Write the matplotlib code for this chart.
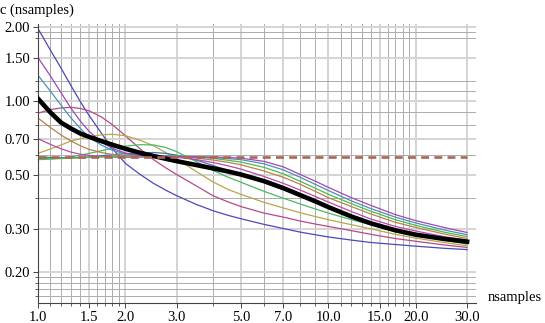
import matplotlib
matplotlib.use("Agg")
import matplotlib.pyplot as plt
from matplotlib.colors import hsv_to_rgb
from matplotlib.ticker import FixedLocator, NullFormatter

# sample positions
nsamples = [1, 1.1, 1.2, 1.3, 1.4, 1.5, 1.65, 1.8, 2, 2.25, 2.5, 2.75, 3, 3.5,
            4, 4.5, 5, 6, 7, 8, 9, 10, 12, 14, 17, 20, 25, 30]

c_1 = [1.97, 1.62, 1.36, 1.15, 0.99, 0.87, 0.74, 0.64, 0.555, 0.5, 0.46, 0.432, 0.41, 0.378,
       0.356, 0.341, 0.33, 0.313, 0.301, 0.291, 0.284, 0.278, 0.27, 0.264, 0.259, 0.255, 0.25, 0.247]
c_2 = [0.89, 0.92, 0.935, 0.94, 0.93, 0.91, 0.86, 0.8, 0.72, 0.635, 0.575, 0.533, 0.5, 0.45,
       0.41, 0.387, 0.37, 0.348, 0.335, 0.323, 0.314, 0.307, 0.295, 0.285, 0.274, 0.267, 0.258, 0.252]
c_3 = [0.61, 0.635, 0.66, 0.685, 0.70, 0.713, 0.726, 0.73, 0.72, 0.69, 0.655, 0.615, 0.58, 0.515,
       0.467, 0.435, 0.415, 0.385, 0.365, 0.349, 0.337, 0.327, 0.312, 0.3, 0.285, 0.275, 0.264, 0.256]
c_4 = [0.575, 0.578, 0.583, 0.59, 0.6, 0.61, 0.625, 0.64, 0.653, 0.662, 0.66, 0.645, 0.62, 0.565,
       0.52, 0.488, 0.465, 0.427, 0.4, 0.379, 0.362, 0.348, 0.327, 0.312, 0.293, 0.283, 0.27, 0.26]
c_5 = [0.59, 0.587, 0.585, 0.585, 0.587, 0.59, 0.596, 0.602, 0.608, 0.613, 0.615, 0.61, 0.6, 0.573,
       0.545, 0.52, 0.5, 0.463, 0.433, 0.407, 0.384, 0.366, 0.338, 0.317, 0.297, 0.284, 0.272, 0.264]
c_6 = [0.70, 0.665, 0.637, 0.617, 0.605, 0.598, 0.592, 0.589, 0.588, 0.589, 0.59, 0.59, 0.588, 0.576,
       0.56, 0.543, 0.526, 0.491, 0.46, 0.432, 0.407, 0.386, 0.353, 0.329, 0.307, 0.294, 0.279, 0.27]
c_7 = [0.85, 0.78, 0.725, 0.685, 0.655, 0.633, 0.615, 0.604, 0.598, 0.595, 0.593, 0.592, 0.59, 0.584,
       0.573, 0.561, 0.548, 0.517, 0.487, 0.456, 0.427, 0.402, 0.37, 0.345, 0.319, 0.304, 0.286, 0.274]
c_8 = [0.58, 0.58, 0.581, 0.583, 0.585, 0.587, 0.59, 0.592, 0.594, 0.596, 0.597, 0.597, 0.596, 0.591,
       0.582, 0.572, 0.562, 0.535, 0.503, 0.469, 0.44, 0.415, 0.38, 0.354, 0.327, 0.31, 0.291, 0.279]
c_9 = [1.27, 1.1, 0.96, 0.85, 0.77, 0.71, 0.66, 0.628, 0.607, 0.597, 0.593, 0.592, 0.591, 0.589,
       0.586, 0.581, 0.575, 0.553, 0.522, 0.487, 0.456, 0.43, 0.39, 0.363, 0.335, 0.317, 0.297, 0.284]
c_10 = [1.50, 1.27, 1.08, 0.93, 0.825, 0.75, 0.68, 0.64, 0.612, 0.598, 0.594, 0.593, 0.592, 0.591,
        0.59, 0.587, 0.583, 0.566, 0.537, 0.50, 0.47, 0.443, 0.402, 0.374, 0.343, 0.324, 0.304, 0.29]
c_mean = [1.02, 0.9, 0.815, 0.77, 0.735, 0.712, 0.685, 0.662, 0.637, 0.613, 0.595, 0.58, 0.567, 0.547,
          0.53, 0.515, 0.5, 0.47, 0.44, 0.412, 0.389, 0.368, 0.337, 0.316, 0.296, 0.284, 0.273, 0.266]
c_limit = 0.59

curves = [c_1, c_2, c_3, c_4, c_5, c_6, c_7, c_8, c_9, c_10]
hues = [0.67, 0.906, 0.142, 0.378, 0.614, 0.85, 0.086, 0.322, 0.558, 0.794]

x_ticks = [1.0, 1.5, 2.0, 3.0, 5.0, 7.0, 10.0, 15.0, 20.0, 30.0]
x_minor = [1.1, 1.2, 1.3, 1.4, 1.6, 1.7, 1.8, 1.9, 4, 6, 8, 9,
           11, 12, 13, 14, 16, 17, 18, 19]
y_ticks = [0.2, 0.3, 0.5, 0.7, 1.0, 1.5, 2.0]
y_minor = [0.16, 0.17, 0.18, 0.19, 0.4, 0.6, 0.8, 0.9, 1.1, 1.2, 1.8, 1.9]

SERIF = "Liberation Serif"

fig = plt.figure(figsize=(5.45, 3.23), dpi=100)
ax = fig.add_axes([38 / 545, 20 / 323, 438 / 545, 278.6 / 323])
ax.set_xscale("log")
ax.set_yscale("log")
ax.set_xlim(1, 32.2)
ax.set_ylim(0.1495, 2.05)

# grid: labelled values light and wide, the rest thin and darker
for v in x_ticks:
    ax.axvline(v, color="#d4d4d4", lw=1.4, zorder=0)
for v in x_minor:
    ax.axvline(v, color="#acacac", lw=0.7, zorder=0)
for v in y_ticks:
    ax.axhline(v, color="#d4d4d4", lw=1.4, zorder=0)
for v in y_minor:
    ax.axhline(v, color="#acacac", lw=0.7, zorder=0)

for vals, h in zip(curves, hues):
    ax.plot(nsamples, vals, color=hsv_to_rgb((h, 0.6, 0.72)), lw=0.9, zorder=2)

ax.plot(nsamples, c_mean, color="black", lw=3.3, solid_joinstyle="round", zorder=3)
ax.plot([nsamples[0], nsamples[-1]], [c_limit, c_limit], color="#ad6555",
        lw=1.9, dashes=(3.0, 2.0), zorder=4)

for s in ["top", "right"]:
    ax.spines[s].set_visible(False)
for s in ["left", "bottom"]:
    ax.spines[s].set_color("#444444")
    ax.spines[s].set_linewidth(0.8)

ax.xaxis.set_major_locator(FixedLocator(x_ticks))
ax.xaxis.set_minor_locator(FixedLocator(x_minor))
ax.yaxis.set_major_locator(FixedLocator(y_ticks))
ax.yaxis.set_minor_locator(FixedLocator(y_minor))
ax.set_xticklabels([f"{v:.1f}" for v in x_ticks], family=SERIF, fontsize=10.5)
ax.set_yticklabels([f"{v:.2f}" for v in y_ticks], family=SERIF, fontsize=10.5)
ax.xaxis.set_minor_formatter(NullFormatter())
ax.yaxis.set_minor_formatter(NullFormatter())
ax.tick_params(which="major", direction="out", length=3.5, width=0.7,
               color="#444444", pad=2)
ax.tick_params(which="minor", direction="out", length=2, width=0.6,
               color="#444444")

fig.text(0.0, 1 - 10 / 323, "c (nsamples)", family=SERIF, fontsize=10.5,
         va="center", ha="left")
fig.text(488 / 545, 1 - 298 / 323, "nsamples", family=SERIF, fontsize=10.5,
         va="center", ha="left")

fig.savefig("out.png", dpi=100)
